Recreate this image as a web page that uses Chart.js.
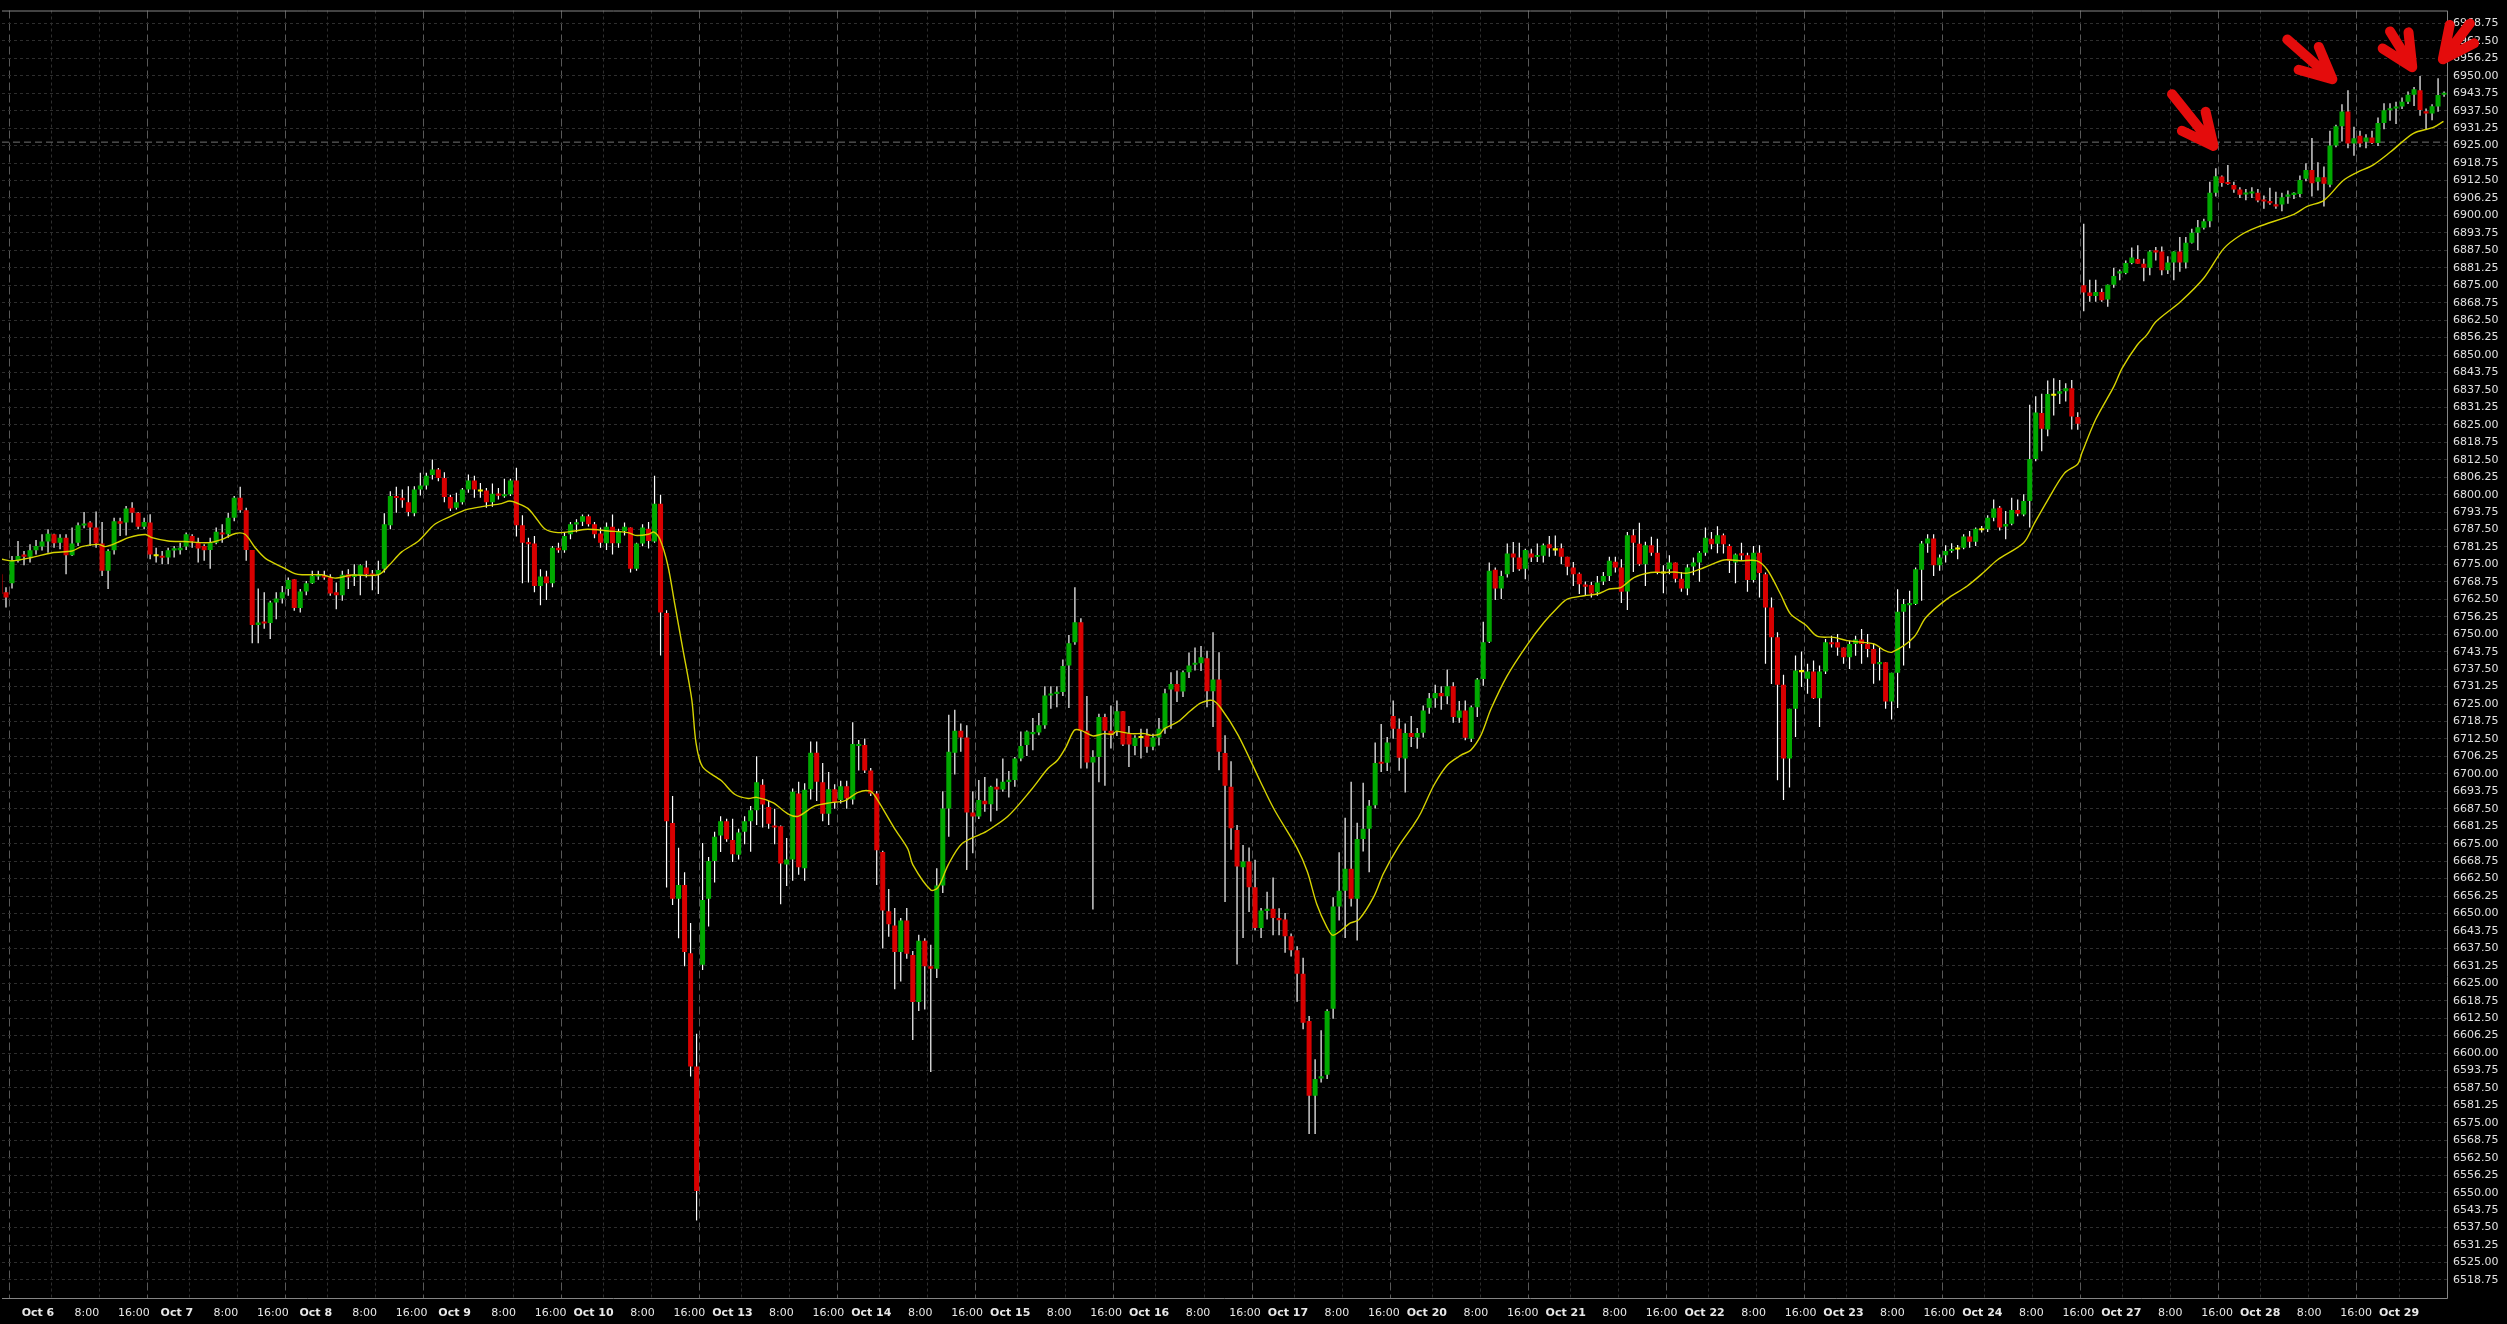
<!DOCTYPE html>
<html>
<head>
<meta charset="utf-8">
<script src="https://cdn.jsdelivr.net/npm/chart.js@4.4.1/dist/chart.umd.min.js"></script>
<style>
  html, body { margin: 0; padding: 0; background: #000; overflow: hidden; }
  #wrap { width: 2507px; height: 1324px; position: relative; }
</style>
</head>
<body>
<div id="wrap"><canvas id="chart"></canvas></div>
<script>
// hourly bars, first entry is bar -1 (partial bar at the left edge)
const firstBar = -1;

const opens = [
  6771.5, 6765, 6768.3, 6776.3, 6778.6, 6777.8, 6780.1, 6781.4, 6783.2, 6785.8,
  6782.8, 6784.6, 6778.3, 6782.8, 6789, 6790, 6788.2, 6782.5, 6772.7, 6780.1,
  6790.5, 6790, 6795.3, 6793.5, 6788.5, 6790, 6778.3, 6778, 6777.5, 6780.1,
  6780.1, 6781.4, 6785.2, 6783, 6781.6, 6780.2, 6782.8, 6786.4, 6785.8, 6791.7,
  6798.9, 6794.4, 6780.2, 6753.3, 6754.5, 6754, 6761.4, 6762.8, 6766.2, 6769.7,
  6759.4, 6765.3, 6768.3, 6770.9, 6771.2, 6770.3, 6765, 6764, 6771.5, 6770.5,
  6771.2, 6773.9, 6771.8, 6771.5, 6773.5, 6789, 6799.5, 6798.9, 6797.3, 6793.3,
  6801.8, 6803.3, 6807, 6809, 6806, 6799.2, 6795.3, 6797.3, 6801.8, 6805.1,
  6801.5, 6801.5, 6797.3, 6800.3, 6799.5, 6800.1, 6805.1, 6789, 6783, 6782.5,
  6767.3, 6770.7, 6768.3, 6781, 6780.1, 6785.8, 6789.4, 6790.3, 6792.3, 6789.4,
  6786.1, 6782.6, 6788.5, 6782.6, 6787, 6788.2, 6773.5, 6782.5, 6787.8, 6783.2,
  6796.7, 6757.6, 6682.4, 6655.3, 6660.2, 6635.8, 6595.2, 6631.6, 6655.3, 6668.8,
  6677.9, 6683, 6676.3, 6671, 6679.3, 6683, 6687, 6696.1, 6688.1, 6681.5,
  6681.2, 6667.5, 6669.3, 6693, 6666.2, 6694.5, 6707.6, 6697, 6685.7, 6694.5,
  6690.6, 6695.6, 6690.8, 6710, 6710.3, 6701.2, 6693, 6672, 6650.8, 6645.7,
  6636.2, 6647.5, 6635.1, 6618.3, 6640.2, 6631.1, 6630.2, 6660, 6687.6, 6707.6,
  6715.4, 6713, 6686.2, 6684.7, 6690.4, 6689.1, 6695.4, 6694.4, 6697.2, 6697.8,
  6705.5, 6710.3, 6714.4, 6714.8, 6717.4, 6728.1, 6728.7, 6729.3, 6738.8, 6747.1,
  6754.3, 6715.4, 6704.1, 6706, 6720.4, 6715.4, 6715.4, 6722.4, 6714.4, 6710,
  6713.2, 6713.8, 6709.7, 6713, 6716.2, 6730.2, 6732.2, 6729.5, 6736.4, 6739.3,
  6739.6, 6741.4, 6729.6, 6733.8, 6707.5, 6695.4, 6679.9, 6666.6, 6668.6, 6659.4,
  6644.8, 6651.1, 6651.7, 6648.4, 6647.8, 6641.8, 6636.8, 6628.4, 6611.5, 6584.7,
  6591, 6592.2, 6615.9, 6652.5, 6658.1, 6666, 6655.3, 6676.7, 6680.3, 6688.8,
  6704.3, 6704, 6720.7, 6716.2, 6705.5, 6714.6, 6713, 6714.7, 6723.7, 6727.1,
  6729, 6727.8, 6731.4, 6720.1, 6722.7, 6712.6, 6723.9, 6734, 6747.3, 6773.1,
  6766.4, 6771.5, 6778.9, 6777.5, 6773.5, 6778.9, 6777.8, 6778.1, 6782.2, 6780.4,
  6780.8, 6777.8, 6773.9, 6771.7, 6767.7, 6767.6, 6765, 6768.9, 6770.9, 6776,
  6773.9, 6765.3, 6785.5, 6782.4, 6775.1, 6781.9, 6779.2, 6772.1, 6773.3, 6775.7,
  6769.9, 6766.4, 6774.3, 6775.7, 6779.2, 6784.2, 6782.4, 6785.5, 6781.6, 6775.7,
  6778.9, 6778.3, 6769.4, 6779.2, 6771.5, 6759.6, 6748.9, 6731.9, 6705.5, 6723.3,
  6736.8, 6734.1, 6736.7, 6727.1, 6736.7, 6747.1, 6747.1, 6745.3, 6741.8, 6746.5,
  6748.1, 6746.5, 6744.7, 6739.4, 6740, 6725.9, 6736.2, 6758.1, 6760.4, 6760.8,
  6773.1, 6782.5, 6784.3, 6774.7, 6778.3, 6779.9, 6780.7, 6781, 6785, 6783.1,
  6787.6, 6787.6, 6791.7, 6795.3, 6788.6, 6789.6, 6794.5, 6792.9, 6797.7, 6812.8,
  6829.2, 6823.3, 6835.8, 6836.1, 6837, 6838.1, 6827.8, 6875, 6872.4, 6871.1,
  6872.6, 6869.9, 6875.2, 6879.4, 6879.4, 6883, 6884.4, 6882.7, 6881.3, 6887.5,
  6887.1, 6880.4, 6883.1, 6887.1, 6883.1, 6890.2, 6893.8, 6895.6, 6897.9, 6908.1,
  6913.9, 6911.9, 6910.9, 6909.3, 6907.6, 6908, 6908.1, 6905.7, 6905.1, 6903.9,
  6903.9, 6906.8, 6907.5, 6907.7, 6913.1, 6916.3, 6912.1, 6913.7, 6911, 6925,
  6931.9, 6937.2, 6925.8, 6928.5, 6926.4, 6927.9, 6925.9, 6933.1, 6937.7, 6938.3,
  6939, 6940.7, 6943.2, 6944.8, 6937.3, 6936.5, 6939, 6943.3
];

const highs = [
  6773, 6766.8, 6778, 6783.4, 6779.8, 6782.2, 6783.8, 6785.8, 6787.6, 6786,
  6785.8, 6785.8, 6788.2, 6790, 6793.8, 6790.5, 6794, 6790.2, 6780.4, 6791.7,
  6791.7, 6795.9, 6797.3, 6793.8, 6791.7, 6793, 6781, 6779.8, 6781, 6781.6,
  6782.8, 6786.4, 6785.8, 6784.6, 6782.2, 6784.6, 6788.2, 6789.4, 6793.5, 6799.5,
  6802.8, 6795.3, 6780.2, 6766.4, 6765, 6762, 6765, 6767.3, 6770.3, 6769.7,
  6766.2, 6769.1, 6772.7, 6772.7, 6772.7, 6771.5, 6768.5, 6772.7, 6773.3, 6775.1,
  6775.1, 6776.3, 6773, 6776.3, 6793.3, 6801.2, 6802.8, 6801.8, 6803, 6803,
  6807.8, 6807.8, 6812.6, 6809.5, 6808, 6800, 6800.7, 6802.4, 6807.2, 6806.8,
  6804.2, 6802.4, 6804, 6802.4, 6805.7, 6805.7, 6809.6, 6792.6, 6784.6, 6785.2,
  6773.3, 6772.7, 6781.6, 6782.8, 6786.6, 6790.2, 6791.2, 6792.9, 6792.9, 6790.2,
  6788.2, 6790, 6792.9, 6787.8, 6790, 6788.2, 6782.8, 6789.4, 6790.2, 6806.8,
  6800, 6758.6, 6692.1, 6673.5, 6664.8, 6646.6, 6606.9, 6675.2, 6670.2, 6679.3,
  6684.8, 6683.9, 6683.9, 6680.3, 6684.8, 6688.5, 6706.3, 6698.1, 6690.3, 6687.5,
  6681.5, 6677, 6694.8, 6697.2, 6696.6, 6711.6, 6711.6, 6703.9, 6700.7, 6696.3,
  6697.5, 6697.5, 6718.5, 6712.1, 6712.7, 6702.1, 6693.9, 6672.5, 6658.8, 6652,
  6648.4, 6652, 6636.6, 6642.4, 6641.1, 6638.8, 6666.2, 6693.8, 6721.2, 6723,
  6718, 6717.4, 6693.8, 6697.8, 6698.9, 6695.7, 6698.3, 6705.5, 6701, 6706,
  6715.2, 6715.5, 6720, 6721.8, 6731.4, 6731.4, 6731.4, 6741, 6749.7, 6766.8,
  6755.7, 6727.9, 6708.5, 6721.5, 6721.5, 6724.5, 6726.3, 6722.4, 6717.1, 6713.8,
  6716.2, 6716.2, 6714.4, 6720, 6730.5, 6736.4, 6737, 6737, 6743.5, 6745.3,
  6745.8, 6744.1, 6750.7, 6743.6, 6713.8, 6704.5, 6681.7, 6674.5, 6673.6, 6669.2,
  6652, 6657.8, 6662.9, 6651.9, 6650.2, 6642.8, 6638.3, 6634.1, 6613.3, 6597.8,
  6608.2, 6615.7, 6655.8, 6671.9, 6684.3, 6697.2, 6682.5, 6696.8, 6690.6, 6711.2,
  6717.9, 6713.2, 6726.3, 6719.8, 6718, 6720.7, 6716.4, 6724.5, 6729, 6731.9,
  6731.4, 6737.4, 6732.8, 6726.1, 6726.3, 6724.5, 6734.3, 6754.5, 6775.7, 6773.9,
  6772.7, 6782.5, 6783, 6782.8, 6780.6, 6780.6, 6782.5, 6782.5, 6785.2, 6785.4,
  6782.5, 6777.8, 6775.9, 6772.1, 6768.9, 6768.8, 6770.9, 6772.3, 6777.8, 6777.8,
  6776.9, 6786.6, 6787.6, 6789.9, 6783.1, 6784.9, 6784.2, 6774.7, 6778.3, 6775.7,
  6772.3, 6775.1, 6777.5, 6779.8, 6788.2, 6786.6, 6788.7, 6786.1, 6782.2, 6778.9,
  6782.8, 6779.2, 6781.6, 6781.9, 6772.1, 6763.2, 6750.7, 6735.5, 6723.3, 6742.4,
  6743.8, 6739.4, 6740.6, 6738.8, 6748.3, 6749.5, 6750.1, 6745.3, 6747.7, 6749.5,
  6751.9, 6750.1, 6746.5, 6745.3, 6740, 6736.2, 6766.1, 6762.6, 6765.6, 6773.9,
  6783.4, 6785.8, 6785.8, 6778.6, 6781.9, 6782.6, 6782, 6785.8, 6787, 6788.2,
  6788.8, 6792.6, 6798.3, 6795.9, 6794.1, 6798.9, 6798.3, 6800.1, 6832.2, 6835.2,
  6836.1, 6840.9, 6841.7, 6841.1, 6839.9, 6841.1, 6829.5, 6897, 6877, 6877,
  6873.8, 6875.3, 6881.3, 6880.6, 6883.9, 6888.5, 6889.3, 6884.5, 6887.5, 6888.7,
  6888.9, 6885.4, 6887.2, 6892.3, 6892.3, 6895.2, 6898.4, 6898.8, 6912.1, 6916.9,
  6914.3, 6918.1, 6912.1, 6910.1, 6909.5, 6910.1, 6909.5, 6907.1, 6909.9, 6908.5,
  6908.1, 6908.9, 6908.3, 6914.3, 6918.7, 6927.7, 6919, 6917.5, 6930.3, 6932.5,
  6939.8, 6944.8, 6931.8, 6930.3, 6929.1, 6930.3, 6935.1, 6940.2, 6940.2, 6940.7,
  6942.2, 6944.4, 6946, 6949.9, 6938.3, 6939.8, 6949.1, 6944.4
];

const lows = [
  6763, 6759.6, 6766.4, 6775.7, 6774.7, 6775.7, 6778.6, 6780, 6779.2, 6781,
  6780.4, 6771.5, 6778, 6781.6, 6788, 6781.6, 6781, 6770.9, 6766.2, 6778.6,
  6785.2, 6785.4, 6790, 6787.6, 6787.6, 6776.9, 6775.7, 6775.1, 6775.1, 6777.5,
  6778.6, 6780.2, 6781, 6775.7, 6776.3, 6773.5, 6782.2, 6782.8, 6784.6, 6790.5,
  6793.5, 6776.3, 6746.8, 6746.8, 6752, 6748.3, 6755.4, 6761, 6763.8, 6758.4,
  6757.8, 6764, 6768, 6769.5, 6769.5, 6763.8, 6759, 6762, 6766.2, 6767.3,
  6764, 6770.3, 6765.8, 6764.4, 6772.1, 6787.6, 6793.5, 6795.3, 6792.3, 6792.3,
  6799.7, 6801.8, 6805.4, 6804.8, 6797.3, 6794.1, 6794.7, 6796.5, 6800.7, 6798.9,
  6798.9, 6795.3, 6795.7, 6798.3, 6798.9, 6799.5, 6785, 6768.3, 6768.5, 6765,
  6760.4, 6762.3, 6766.8, 6779.2, 6779.2, 6784, 6786.5, 6788.8, 6788.6, 6784.4,
  6781, 6780.2, 6778.6, 6781, 6785.4, 6772.1, 6772.7, 6781.5, 6780.7, 6782.8,
  6742.4, 6659.3, 6653, 6641.1, 6631.1, 6591.6, 6540, 6629.8, 6645.3, 6661.1,
  6672, 6675.7, 6668.4, 6669.3, 6674.8, 6672.1, 6681.7, 6680.8, 6680.3, 6674.8,
  6653.3, 6659.8, 6661.7, 6663.9, 6661.7, 6690.8, 6690.3, 6683, 6681.7, 6687.5,
  6689.4, 6687.5, 6689, 6701.2, 6700.3, 6692.1, 6660.2, 6637.5, 6641.7, 6622.9,
  6625.6, 6633.8, 6604.7, 6615.1, 6615.6, 6593.2, 6626.9, 6657.3, 6677.5, 6699.8,
  6707.9, 6665.6, 6671.6, 6683.8, 6686.4, 6682.9, 6686.8, 6693.6, 6691.5, 6695.4,
  6704.5, 6706.4, 6708.5, 6713.8, 6716.2, 6723.3, 6723.9, 6727.9, 6723.6, 6746.2,
  6701.9, 6701.9, 6651.4, 6697, 6695.7, 6709.1, 6713.6, 6710, 6702.5, 6706.7,
  6705.5, 6707.6, 6708.5, 6710.2, 6714.4, 6716.2, 6725.7, 6727.5, 6734.3, 6737,
  6736.8, 6723.9, 6716.8, 6701.3, 6654.1, 6672.8, 6631.7, 6641.2, 6650.5, 6643.9,
  6641.2, 6647.8, 6642.2, 6642.2, 6635.9, 6634.6, 6618.4, 6608.5, 6571, 6571,
  6589.5, 6590.7, 6612.3, 6647.5, 6641.2, 6652.5, 6640.3, 6672.2, 6664.8, 6687.6,
  6700.7, 6701, 6712.6, 6701.1, 6693.3, 6709.6, 6709, 6713, 6721.5, 6723.7,
  6723, 6724.9, 6718.3, 6718.3, 6712, 6711.4, 6720.4, 6731.6, 6746.9, 6762.3,
  6762.6, 6770.3, 6772.3, 6772.7, 6769.7, 6775.9, 6775.9, 6775.7, 6777.8, 6778.1,
  6775.1, 6771.1, 6767.3, 6764.4, 6763.8, 6763.2, 6763.8, 6767.6, 6769.1, 6772.1,
  6761.2, 6758.7, 6772.3, 6774.5, 6767.3, 6778.1, 6771.5, 6764.7, 6771.5, 6768.5,
  6765.2, 6764, 6771.1, 6768.8, 6778.1, 6780.4, 6779, 6778.9, 6771.9, 6768.3,
  6776.6, 6765.2, 6768.5, 6763.2, 6739.4, 6732.2, 6697.7, 6690.6, 6695.1, 6713.2,
  6731.1, 6728.7, 6726.8, 6716.8, 6735.8, 6745.3, 6742.3, 6739.4, 6737.6, 6742.3,
  6739.4, 6741.8, 6732.3, 6733.4, 6723.3, 6719.5, 6723.6, 6738.8, 6745, 6760.5,
  6762, 6779.2, 6770.9, 6772.7, 6775.7, 6779.2, 6776.9, 6780.4, 6781, 6781.6,
  6786.4, 6786.6, 6790.5, 6787.2, 6784, 6789, 6792.3, 6792.3, 6788.2, 6812,
  6815.5, 6820.9, 6828.3, 6832.5, 6833.4, 6823.3, 6823.2, 6865.7, 6869.1, 6869.1,
  6869.1, 6867.3, 6874.1, 6876.8, 6878.9, 6882.5, 6882.7, 6876.4, 6878.6, 6883.9,
  6878.6, 6879, 6876.8, 6879.8, 6881, 6889.9, 6887.5, 6895, 6895.8, 6906.8,
  6910.3, 6911, 6908.1, 6906.2, 6905.4, 6906.2, 6904.7, 6902.4, 6903.8, 6902.4,
  6901.5, 6904.2, 6905.9, 6906.5, 6912.2, 6906.8, 6908.9, 6903.2, 6910.1, 6924.4,
  6926.5, 6924.1, 6921.4, 6924.4, 6924.1, 6925.6, 6924.9, 6930.9, 6933.9, 6932.7,
  6938.1, 6939.9, 6939.2, 6935.7, 6930.9, 6934.1, 6937.1, 6942.5
];

const closes = [
  6764.4, 6763.2, 6776.3, 6778, 6777.8, 6780.1, 6781.6, 6783.2, 6786, 6782.6,
  6784.6, 6778.3, 6782.5, 6789, 6789.6, 6788.2, 6782.5, 6772.7, 6779.8, 6790.5,
  6789.6, 6795, 6793.5, 6788.5, 6790.2, 6778.6, 6778.3, 6777.5, 6780.1, 6780.7,
  6781, 6785.8, 6783.2, 6780.7, 6780.1, 6782.8, 6786.7, 6785.8, 6791.7, 6798.9,
  6794.4, 6780.2, 6753.3, 6754.2, 6753.9, 6761.4, 6762.8, 6765, 6769.4, 6759.4,
  6765.3, 6768.3, 6770.9, 6771.3, 6770.3, 6764.6, 6764, 6771.3, 6770.3, 6771.5,
  6774.7, 6771.5, 6771, 6773, 6789.4, 6799.5, 6798.8, 6798, 6793.8, 6801.8,
  6803.3, 6806.8, 6809, 6806, 6799.2, 6795, 6797.3, 6801.8, 6805.1, 6801.8,
  6801.5, 6797.3, 6800.3, 6799.7, 6800.1, 6805.1, 6789, 6782.8, 6782.2, 6767.3,
  6770.7, 6768.3, 6781, 6780.1, 6785.2, 6789.4, 6790, 6792.3, 6789.4, 6785.8,
  6782.8, 6788.5, 6782.6, 6787, 6788.5, 6773.5, 6782.5, 6788.2, 6783.4, 6796.7,
  6757.8, 6683, 6655.3, 6660.2, 6636.2, 6595.2, 6550.6, 6654.8, 6668.8, 6677.5,
  6683, 6676.6, 6671.2, 6679, 6683, 6687, 6697, 6689, 6682.1, 6680.8,
  6667.9, 6669.3, 6693.6, 6666.6, 6694.3, 6707.6, 6697.2, 6685.7, 6694.5, 6689.9,
  6695.6, 6691.2, 6710.7, 6710.7, 6701.2, 6693, 6672.6, 6651.1, 6646.1, 6636.2,
  6647.5, 6635.6, 6618.3, 6640.2, 6631.1, 6630.2, 6660, 6687.6, 6707.9, 6715.4,
  6713, 6686.2, 6684.7, 6690.6, 6689.1, 6695.4, 6694.4, 6697.2, 6697.8, 6705.5,
  6710, 6715.2, 6714.8, 6717.4, 6728.1, 6728.7, 6729.3, 6738.6, 6746.8, 6754.3,
  6715.4, 6704.1, 6706, 6720.4, 6715.4, 6713.8, 6722.4, 6710.5, 6710.5, 6712.9,
  6713.2, 6709.7, 6713, 6716.2, 6728.9, 6732.2, 6729.5, 6736.4, 6738.8, 6739.6,
  6741.8, 6729.6, 6733.8, 6707.9, 6695.7, 6680.5, 6666.8, 6668.6, 6659.4, 6644.8,
  6651.1, 6651.5, 6648.4, 6647.6, 6641.8, 6636.8, 6628.4, 6610.9, 6584.7, 6590.7,
  6591.6, 6615.1, 6652.5, 6658.1, 6666, 6655.3, 6676.7, 6680.3, 6688.6, 6703.9,
  6703.7, 6711.2, 6716.2, 6705.8, 6714.6, 6713.2, 6714.6, 6722.7, 6727.1, 6729,
  6727.8, 6731.4, 6720.4, 6722.7, 6712.9, 6723.9, 6733.8, 6747.1, 6772.7, 6766.4,
  6770.9, 6778.9, 6777.5, 6773.3, 6780.2, 6777.5, 6778.3, 6781.9, 6780.8, 6780.4,
  6777.8, 6774.2, 6771.5, 6767.9, 6767.1, 6764.6, 6768.5, 6770.9, 6776.3, 6773.9,
  6765.2, 6785.5, 6782.8, 6775.1, 6781.9, 6779.2, 6772.3, 6772.1, 6775.7, 6769.9,
  6766.4, 6773.9, 6775.7, 6779.2, 6784.6, 6782.2, 6785.5, 6782.2, 6776.3, 6778.6,
  6778.3, 6769.4, 6779.2, 6771.9, 6759.6, 6748.9, 6731.9, 6705.5, 6723.3, 6737,
  6736.8, 6736.7, 6727.1, 6736.7, 6747.1, 6746.5, 6745.3, 6741.8, 6746.5, 6748.1,
  6746.5, 6744.7, 6739.4, 6739.9, 6725.9, 6736.2, 6758.1, 6760.8, 6761.2, 6773.3,
  6782.5, 6784.3, 6774.7, 6777.5, 6779.8, 6780.4, 6780.7, 6785, 6783.1, 6787.8,
  6787.6, 6791.7, 6795, 6788.2, 6789.5, 6794.5, 6793.2, 6797.7, 6812.8, 6829.4,
  6823.6, 6836, 6835.8, 6837, 6838.1, 6828, 6825.4, 6872.4, 6871.1, 6872.6,
  6869.6, 6875.2, 6878.3, 6879.8, 6883, 6884.9, 6882.7, 6881.3, 6887.1, 6886.7,
  6880.4, 6883.1, 6887.1, 6883.1, 6890.2, 6893.8, 6895.8, 6897.9, 6908.1, 6914,
  6911.6, 6911.3, 6909.3, 6907.4, 6908.1, 6908.4, 6905.3, 6905, 6904.4, 6903.3,
  6906.5, 6907.4, 6907.9, 6912.7, 6916.3, 6911.5, 6913.7, 6911.3, 6925, 6931.9,
  6937.2, 6925.8, 6927.6, 6925.8, 6927.9, 6925.9, 6933.1, 6937.7, 6938.3, 6939,
  6940.7, 6943.2, 6945.2, 6937.8, 6936.5, 6939.1, 6943.1, 6943.8
];

// moving average (bar index, price)
const maIndex = [
  -0.7, 1, 4.3, 7.7, 11, 12.6, 15.4, 16.5, 18.5, 20.4,
  23.2, 24.3, 27, 29.8, 33.7, 36, 38.2, 39.8, 41.5, 43.2,
  46.5, 48.1, 49.3, 52.6, 54.8, 57.6, 62, 63.7, 65.9, 68.7,
  71.4, 74.1, 76.8, 79.8, 82.5, 83.9, 85.3, 86.9, 88.1, 89.7,
  91.9, 94.7, 96.9, 100.3, 103.6, 104.8, 107, 107.9, 108.9, 110.2,
  111.4, 112.6, 114.2, 114.9, 116, 119.1, 121.4, 123.6, 125, 127.7,
  130.2, 131.9, 134.7, 137.4, 139.6, 141.9, 143.8, 144.7, 148, 150.2,
  151, 154, 155.2, 156.9, 159.1, 162.4, 163.2, 166.8, 170.7, 173.5,
  175.1, 176.5, 177.9, 179, 181, 182.9, 184.3, 184.9, 187.4, 189.6,
  190.7, 192.1, 192.9, 195.1, 197.3, 199, 200.9, 202.3, 205.2, 208.9,
  211.1, 215, 216.7, 218.3, 219.9, 221, 223.9, 225.3, 227.8, 229.4,
  231.9, 234.4, 235.6, 237.8, 240, 242.3, 243.9, 245.6, 247.3, 250,
  253.4, 256.1, 258.4, 260, 262.8, 265, 267, 268.9, 271.1, 273.9,
  276.1, 277.8, 280, 282.8, 286.1, 288.8, 291.6, 293.3, 295.5, 297.2,
  299.7, 301.6, 304.4, 306.6, 311.1, 312.8, 314.1, 317.7, 319.7, 323.2,
  326.6, 329.3, 331.6, 336, 337.7, 339.9, 342.8, 345, 345.7, 348,
  351, 352.4, 354.9, 356.5, 358, 362.1, 366, 369.3, 372.1, 374.9,
  381, 383.2, 386, 389.2, 391.6, 394, 397, 400.9, 404.2, 405.9
];
const maValue = [
  6776.9, 6776.3, 6777.5, 6779.2, 6779.8, 6781.4, 6782.2, 6781.4, 6782.8, 6784.6,
  6785.7, 6784.6, 6783.4, 6783.2, 6782.8, 6784, 6786.1, 6785.8, 6781, 6777.2,
  6773.5, 6771.7, 6771.3, 6771.3, 6770.1, 6771.2, 6771.3, 6774.5, 6779.5, 6783.4,
  6789.4, 6792.3, 6794.7, 6795.9, 6796.8, 6797.7, 6796.8, 6795.1, 6792.1, 6787.8,
  6786.4, 6787, 6787.6, 6787, 6786.4, 6785.4, 6785.8, 6786.6, 6784, 6774.8,
  6760.4, 6746, 6726.6, 6711.2, 6702.5, 6697.6, 6692.6, 6691.2, 6691.6, 6689.7,
  6685.7, 6684.8, 6688.5, 6689.7, 6690.3, 6693.4, 6693.9, 6692.1, 6680.3, 6673,
  6667.5, 6658.4, 6659.3, 6667.4, 6674.8, 6678.5, 6679.3, 6684.7, 6694.2, 6701.9,
  6704.9, 6709.6, 6715.6, 6715.6, 6713.6, 6714.4, 6714.2, 6715.2, 6714.4, 6714.4,
  6713.8, 6714.2, 6716.2, 6718.6, 6722.7, 6725.4, 6726.3, 6723.6, 6713.8, 6697.2,
  6687.6, 6673.4, 6665, 6653.2, 6645.4, 6642.2, 6646.6, 6647.8, 6656.1, 6664.4,
  6674, 6681.7, 6686, 6696, 6703.1, 6706.7, 6708.5, 6713.8, 6723.3, 6735.2,
  6746.5, 6754.2, 6759.6, 6762.6, 6763.8, 6764.4, 6766.2, 6766.7, 6770.3, 6772.1,
  6772.1, 6772.3, 6771.9, 6773.9, 6776.6, 6776.3, 6776.3, 6773.1, 6764.4, 6757.2,
  6753.3, 6749.3, 6748.9, 6747.7, 6746.5, 6744.2, 6743.6, 6748.9, 6756, 6762.6,
  6767.3, 6772.1, 6776.6, 6782.8, 6789.4, 6797.7, 6807.7, 6811, 6815, 6827,
  6838.7, 6845.3, 6853.6, 6857.2, 6861.9, 6869.1, 6877.6, 6888.1, 6892.9, 6895.8,
  6900.4, 6903.2, 6905.4, 6912.5, 6915.5, 6917.8, 6922.6, 6929.4, 6931.5, 6933.7
];

const dayLabels = ['Oct 6', 'Oct 7', 'Oct 8', 'Oct 9', 'Oct 10', 'Oct 13', 'Oct 14', 'Oct 15', 'Oct 16',
  'Oct 17', 'Oct 20', 'Oct 21', 'Oct 22', 'Oct 23', 'Oct 24', 'Oct 27', 'Oct 28', 'Oct 29'];
const hourLabels = ['8:00', '16:00'];

const levelPrice = 6926.25;

// red arrows drawn on the chart (bar index / price of tail and tip)
const arrowTailBar = [360.7, 379.9, 397.0, 410.3];
const arrowTailPrice = [6943.4, 6963.0, 6965.9, 6968.7];
const arrowTipBar = [367.6, 387.4, 400.7, 405.8];
const arrowTipPrice = [6924.9, 6948.8, 6953.1, 6955.9];

// ---- layout helpers ----
const BAR0_PX = 4, BAR_STEP = 6.01, PLOT_RIGHT = 2448;
const toIdx = px => (px - BAR0_PX) / BAR_STEP;
const xMin = toIdx(0), xMax = toIdx(PLOT_RIGHT);
const yMin = 6511.93, yMax = 6973.39;

const GREEN = '#00a800', RED = '#d80000', DOJI = '#f0f000';

const xs = opens.map((_, k) => k + firstBar);
const minBody = 0.75;
const bodyData = xs.map((x, k) => {
  let a = Math.min(opens[k], closes[k]), b = Math.max(opens[k], closes[k]);
  if (b - a < minBody) { const m = (a + b) / 2; a = m - minBody / 2; b = m + minBody / 2; }
  return { x, y: [a, b] };
});
const bodyColors = xs.map((_, k) => closes[k] > opens[k] ? GREEN : (closes[k] < opens[k] ? RED : DOJI));
const wickData = xs.map((x, k) => ({ x, y: [lows[k], highs[k]] }));

// x ticks: grid lines at session boundaries, labels at their own spots
const xTicks = [];
dayLabels.forEach((lab, d) => {
  const s = 1 + 23 * d;
  xTicks.push({ value: s - 0.5, grid: 'day' });
  xTicks.push({ value: s + 6.5, grid: 'hour' });
  xTicks.push({ value: s + 14.5, grid: 'hour' });
  const px = 36 + 139 * d;
  xTicks.push({ value: toIdx(px), label: lab, bold: true });
  [49, 96].forEach((off, j) => {
    if (px + off < 2430) xTicks.push({ value: toIdx(px + off), label: hourLabels[j] });
  });
});
xTicks.sort((a, b) => a.value - b.value);

const priceTicks = [];
for (let v = 6518.75; v <= 6968.76; v += 6.25) priceTicks.push(v);

// top, right and bottom edges of the plot
const framePlugin = {
  id: 'frame',
  afterDatasetsDraw(chart) {
    const { ctx, chartArea: a } = chart;
    ctx.save();
    ctx.strokeStyle = '#858585';
    ctx.lineWidth = 1;
    ctx.beginPath();
    ctx.moveTo(a.left, a.top + 0.5);
    ctx.lineTo(a.right - 0.5, a.top + 0.5);
    ctx.lineTo(a.right - 0.5, a.bottom - 0.5);
    ctx.lineTo(a.left, a.bottom - 0.5);
    ctx.stroke();
    ctx.restore();
  }
};

const arrowPlugin = {
  id: 'arrows',
  afterDraw(chart) {
    const { ctx, scales: { x, y } } = chart;
    ctx.save();
    ctx.strokeStyle = '#e40c0c';
    ctx.lineWidth = 10;
    ctx.lineCap = 'round';
    ctx.lineJoin = 'round';
    arrowTipBar.forEach((_, k) => {
      const tx = x.getPixelForValue(arrowTipBar[k]), ty = y.getPixelForValue(arrowTipPrice[k]);
      const bx = x.getPixelForValue(arrowTailBar[k]), by = y.getPixelForValue(arrowTailPrice[k]);
      const ang = Math.atan2(by - ty, bx - tx);
      ctx.beginPath();
      ctx.moveTo(bx, by);
      ctx.lineTo(tx, ty);
      [-1, 1].forEach(s => {
        const a = ang + s * 0.45;
        ctx.moveTo(tx + 35 * Math.cos(a), ty + 35 * Math.sin(a));
        ctx.lineTo(tx, ty);
      });
      ctx.stroke();
    });
    ctx.restore();
  }
};

Chart.defaults.font.family = 'DejaVu Sans';

new Chart(document.getElementById('chart'), {
  type: 'bar',
  data: {
    datasets: [
      {
        type: 'line',
        data: maIndex.map((x, k) => ({ x, y: maValue[k] })),
        borderColor: '#d6d300',
        borderWidth: 1.4,
        pointRadius: 0,
        tension: 0.3,
        order: 0
      },
      {
        type: 'bar',
        data: bodyData,
        backgroundColor: bodyColors,
        barThickness: 5,
        grouped: false,
        borderWidth: 0,
        inflateAmount: 0,
        order: 1
      },
      {
        type: 'bar',
        data: wickData,
        backgroundColor: '#ffffff',
        barThickness: 1.2,
        grouped: false,
        borderWidth: 0,
        inflateAmount: 0,
        order: 2
      },
      {
        type: 'line',
        data: [{ x: xMin, y: levelPrice }, { x: xMax, y: levelPrice }],
        borderColor: '#707070',
        borderWidth: 1,
        borderDash: [7, 4],
        pointRadius: 0,
        order: 3
      }
    ]
  },
  options: {
    responsive: true,
    maintainAspectRatio: false,
    animation: false,
    layout: { padding: { top: 6, left: 0, right: 0, bottom: 0 } },
    plugins: { legend: { display: false }, tooltip: { enabled: false } },
    scales: {
      x: {
        type: 'linear',
        position: 'bottom',
        min: xMin,
        max: xMax,
        offset: false,
        afterBuildTicks: s => { s.ticks = xTicks.map(t => ({ value: t.value })); },
        afterFit: s => { s.height = 25; },
        ticks: {
          autoSkip: false,
          maxRotation: 0,
          minRotation: 0,
          padding: 9,
          color: '#e8e8e8',
          font: ctx => ({
            family: 'DejaVu Sans',
            size: 11,
            lineHeight: 1,
            weight: (xTicks[ctx.index] && xTicks[ctx.index].bold) ? 'bold' : 'normal'
          }),
          callback: (v, i) => (xTicks[i] && xTicks[i].label) || ''
        },
        grid: {
          offset: false,
          drawTicks: false,
          lineWidth: ctx => (xTicks[ctx.index] && xTicks[ctx.index].grid) ? 1 : 0,
          color: ctx => (xTicks[ctx.index] && xTicks[ctx.index].grid === 'day') ? '#585858' : '#2e2e2e'
        },
        border: {
          display: false,
          dash: ctx => (xTicks[ctx.index] && xTicks[ctx.index].grid === 'day') ? [8, 4] : [3, 3]
        }
      },
      y: {
        type: 'linear',
        position: 'right',
        min: yMin,
        max: yMax,
        afterBuildTicks: s => { s.ticks = priceTicks.map(v => ({ value: v })); },
        afterFit: s => { s.width = 2507 - PLOT_RIGHT; },
        ticks: {
          autoSkip: false,
          padding: 5,
          color: '#e0e0e0',
          font: { family: 'DejaVu Sans', size: 11, lineHeight: 1 },
          callback: v => v.toFixed(2)
        },
        grid: { offset: false, drawTicks: false, color: '#2e2e2e', lineWidth: 1 },
        border: { display: false, dash: [3, 3] }
      }
    }
  },
  plugins: [framePlugin, arrowPlugin]
});
</script>
</body>
</html>
